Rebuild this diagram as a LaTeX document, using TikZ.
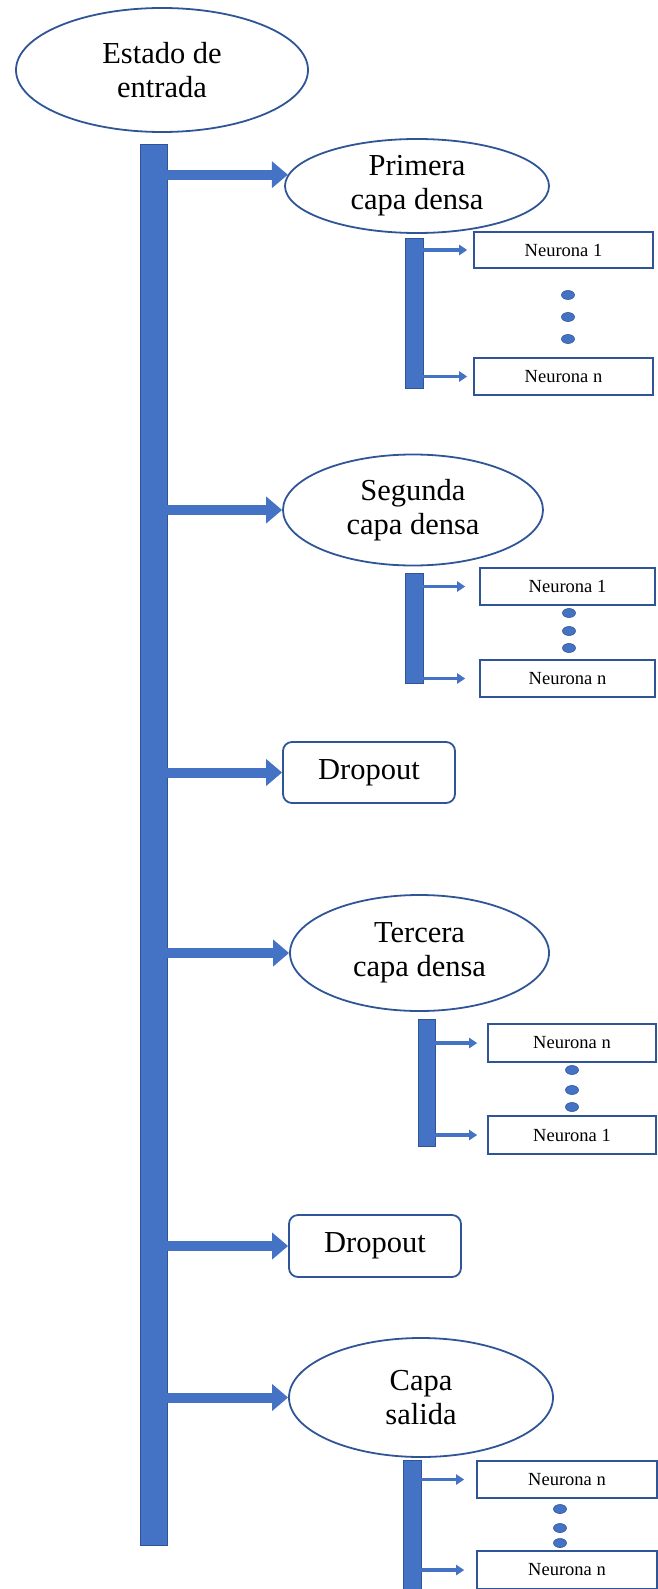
\documentclass[tikz,border=0pt]{standalone}
\usepackage{fontspec}
\setmainfont{Liberation Serif}
\usepackage{tikz}
\usetikzlibrary{shapes.geometric}
\usetikzlibrary{arrows.meta}
\definecolor{barblue}{HTML}{4472C4}
\definecolor{lineblue}{HTML}{2F5597}
\tikzset{layer/.style={ellipse,draw=lineblue,line width=1.8pt,inner sep=0pt,align=center,
   font=\fontsize{30.5}{34}\selectfont},
 dropbox/.style={rectangle,rounded corners=9pt,draw=lineblue,line width=1.8pt,inner sep=0pt,
   font=\fontsize{30.5}{34}\selectfont},
 neuron/.style={rectangle,draw=lineblue,line width=1.6pt,inner sep=0pt,
   font=\fontsize{18.5}{20}\selectfont},
 bar/.style={rectangle,fill=barblue,draw=lineblue,line width=0.6pt,inner sep=0pt},
 bigarrow/.style={draw=barblue,line width=10pt,-{Triangle[width=26pt,length=16pt]}},
 smallarrow/.style={draw=barblue,line width=3.5pt,-{Triangle[width=10pt,length=8pt]}},
 dot/.style={fill=barblue,draw=lineblue,line width=0.6pt},
 }

\begin{document}
\begin{tikzpicture}[x=1pt,y=-1pt]
        \useasboundingbox (0,0) rectangle (657,1589);
        \node[layer,minimum width=292pt,minimum height=124pt] (input) at (162,70) {Estado de\\entrada};
        \node[bar,minimum width=27pt,minimum height=1401pt] (trunk) at (153.5,844.5) {};

        \node[layer,minimum width=264pt,minimum height=94pt] (dense1) at (417,186) {Primera\\capa densa};
        \node[layer,minimum width=260pt,minimum height=111pt] (dense2) at (413,510) {Segunda\\capa densa};
        \node[dropbox,minimum width=172pt,minimum height=61pt] (drop1) at (369,772.5) {Dropout};
        \node[layer,minimum width=259pt,minimum height=116pt] (dense3) at (419.5,953) {Tercera\\capa densa};
        \node[dropbox,minimum width=172pt,minimum height=62pt] (drop2) at (375,1246) {Dropout};
        \node[layer,minimum width=264pt,minimum height=119pt] (output) at (421,1397.5) {Capa\\salida};

        \draw[bigarrow] (trunk.east |- dense1.175) -- (dense1.175);
        \draw[bigarrow] (trunk.east |- dense2.west) -- (dense2.west);
        \draw[bigarrow] (trunk.east |- drop1.west) -- (drop1.west);
        \draw[bigarrow] (trunk.east |- dense3.west) -- (dense3.west);
        \draw[bigarrow] (trunk.east |- drop2.west) -- (drop2.west);
        \draw[bigarrow] (trunk.east |- output.west) -- (output.west);

        \node[bar,minimum width=18pt,minimum height=150pt] (sub1) at (414,313) {};
        \node[neuron,minimum width=179pt,minimum height=36pt] (n1a) at (563.5,250) {Neurona 1};
        \node[neuron,minimum width=179pt,minimum height=37pt] (n1b) at (563.5,376.5) {Neurona n};
        \draw[smallarrow] (sub1.east |- n1a.west) -- ([xshift=-6pt]n1a.west);
        \draw[smallarrow] (sub1.east |- n1b.west) -- ([xshift=-6pt]n1b.west);

        \node[bar,minimum width=18pt,minimum height=110pt] (sub2) at (414,628) {};
        \node[neuron,minimum width=175pt,minimum height=37pt] (n2a) at (567.5,586.5) {Neurona 1};
        \node[neuron,minimum width=175pt,minimum height=37pt] (n2b) at (567.5,678.5) {Neurona n};
        \draw[smallarrow] (sub2.east |- n2a.west) -- ([xshift=-14pt]n2a.west);
        \draw[smallarrow] (sub2.east |- n2b.west) -- ([xshift=-14pt]n2b.west);

        \node[bar,minimum width=17pt,minimum height=127pt] (sub3) at (426.5,1082.5) {};
        \node[neuron,minimum width=168pt,minimum height=38pt] (n3a) at (572,1043) {Neurona n};
        \node[neuron,minimum width=168pt,minimum height=38pt] (n3b) at (572,1135) {Neurona 1};
        \draw[smallarrow] (sub3.east |- n3a.west) -- ([xshift=-10pt]n3a.west);
        \draw[smallarrow] (sub3.east |- n3b.west) -- ([xshift=-10pt]n3b.west);

        \node[bar,minimum width=18pt,minimum height=129pt] (sub4) at (412,1524.5) {};
        \node[neuron,minimum width=180pt,minimum height=37pt] (n4a) at (567,1479.5) {Neurona n};
        \node[neuron,minimum width=180pt,minimum height=38pt] (n4b) at (567,1570) {Neurona n};
        \draw[smallarrow] (sub4.east |- n4a.west) -- ([xshift=-12pt]n4a.west);
        \draw[smallarrow] (sub4.east |- n4b.west) -- ([xshift=-12pt]n4b.west);

        \foreach \x/\y in {568/295,568/317,568/339,569/613,569/631,569/648,
                572/1070,572/1090,572/1107,560/1509,560/1528,560/1543}
            \draw[dot] (\x,\y) ellipse (6.5pt and 4.5pt);
    \end{tikzpicture}
\end{document}
